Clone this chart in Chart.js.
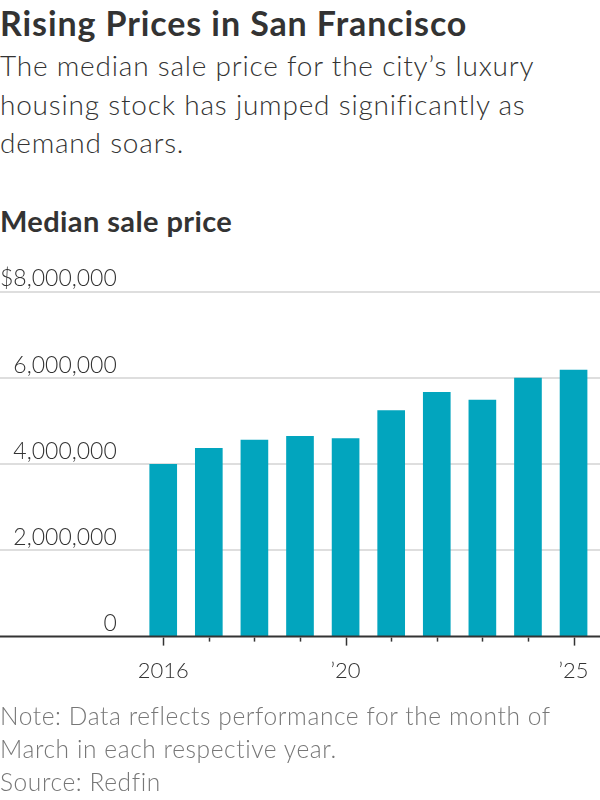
<!DOCTYPE html>
<html>
<head>
<meta charset="utf-8">
<script src="https://cdn.jsdelivr.net/npm/chart.js@4.4.0/dist/chart.umd.min.js"></script>
<style>
  body { margin: 0; width: 600px; height: 800px; background: #fff; color: #333; font-family: Lato, sans-serif; position: relative; overflow: hidden; }
  .title { position: absolute; left: 0; top: 4px; font-size: 34px; font-weight: 700; line-height: 38px; letter-spacing: 0.9px; }
  .sub { position: absolute; left: 0; top: 46px; font-size: 28px; font-weight: 300; line-height: 38.5px; letter-spacing: 0.8px; width: 600px; }
  .label { position: absolute; left: 0; top: 204px; font-size: 29px; font-weight: 700; line-height: 34px; letter-spacing: 0.4px; }
  .note { position: absolute; left: 0; top: 699px; font-size: 24.5px; font-weight: 300; color: #777; line-height: 33px; letter-spacing: 0.6px; width: 600px; }
  #wrap { position: absolute; left: 0; top: 260px; width: 600px; height: 449px; }
</style>
</head>
<body>
<div class="title">Rising Prices in San Francisco</div>
<div class="sub">The median sale price for the city’s luxury<br>housing stock has jumped significantly as<br>demand soars.</div>
<div class="label">Median sale price</div>
<div id="wrap"><canvas id="chart1"></canvas></div>
<div class="note">Note: Data reflects performance for the month of<br>March in each respective year.<br>Source: Redfin</div>
<script>
var years = [2016, 2017, 2018, 2019, 2020, 2021, 2022, 2023, 2024, 2025]
var prices = [4000000, 4370000, 4560000, 4650000, 4600000, 5250000, 5670000, 5490000, 6000000, 6190000]
var labeledYears = [2016, 2020, 2025]
var yearLabels = ['2016', '’20', '’25']
var yTicks = [0, 2000000, 4000000, 6000000, 8000000]

var barColor = '#02a5be'
var inkColor = '#333333'

// axis line and year tick marks, drawn after the bars so the baseline stays on top
var axisMarks = {
  id: 'axisMarks',
  afterDatasetsDraw: function(chart) {
    var ctx = chart.ctx
    var x = chart.scales.x
    var y = chart.scales.y
    var base = y.getPixelForValue(0)
    ctx.save()
    ctx.strokeStyle = inkColor
    ctx.lineWidth = 2
    ctx.beginPath()
    ctx.moveTo(chart.chartArea.left, base)
    ctx.lineTo(chart.chartArea.right, base)
    ctx.stroke()
    ctx.lineWidth = 1.5
    for (let i = 0; i < years.length; i++) {
      var px = Math.round(x.getPixelForValue(years[i])) + 0.5
      var len = labeledYears.indexOf(years[i]) >= 0 ? 9 : 5
      ctx.beginPath()
      ctx.moveTo(px, base + 1)
      ctx.lineTo(px, base + len)
      ctx.stroke()
    }
    ctx.restore()
  }
}

var points = years.map(function(yr, i) { return { x: yr, y: prices[i] } })

new Chart(document.getElementById('chart1').getContext('2d'), {
  type: 'bar',
  data: {
    datasets: [{
      data: points,
      backgroundColor: barColor,
      borderWidth: 0,
      barThickness: 27
    }]
  },
  options: {
    responsive: true,
    maintainAspectRatio: false,
    animation: false,
    layout: { padding: { top: 32, bottom: 4, left: 0, right: 0 } },
    plugins: { legend: { display: false }, tooltip: { enabled: false } },
    scales: {
      x: {
        type: 'linear',
        offset: false,
        min: 2012.42,
        max: 2025.58,
        afterBuildTicks: function(scale) {
          scale.ticks = years.map(function(v) { return { value: v } })
        },
        afterFit: function(scale) {
          scale.paddingLeft = 0
          scale.paddingRight = 0
        },
        grid: { display: false, drawTicks: false },
        border: { display: false },
        ticks: {
          autoSkip: false,
          maxRotation: 0,
          padding: 21,
          color: inkColor,
          font: { family: 'Lato', size: 22, weight: 300 },
          callback: function(value) {
            var k = labeledYears.indexOf(value)
            return k >= 0 ? yearLabels[k] : ''
          }
        }
      },
      y: {
        min: 0,
        max: 8000000,
        afterBuildTicks: function(scale) {
          scale.ticks = yTicks.map(function(v) { return { value: v } })
        },
        border: { display: false },
        grid: {
          color: function(c) { return c.tick && c.tick.value === 0 ? 'rgba(0,0,0,0)' : '#dedede' },
          lineWidth: 2,
          drawTicks: false
        },
        ticks: {
          mirror: true,
          crossAlign: 'far',
          padding: 0,
          labelOffset: -13,
          color: inkColor,
          font: { family: 'Lato', size: 23, weight: 300 },
          callback: function(value) {
            var s = value.toLocaleString('en-US')
            return value === 8000000 ? '$' + s : s
          }
        }
      }
    }
  },
  plugins: [axisMarks]
})
</script>
</body>
</html>
